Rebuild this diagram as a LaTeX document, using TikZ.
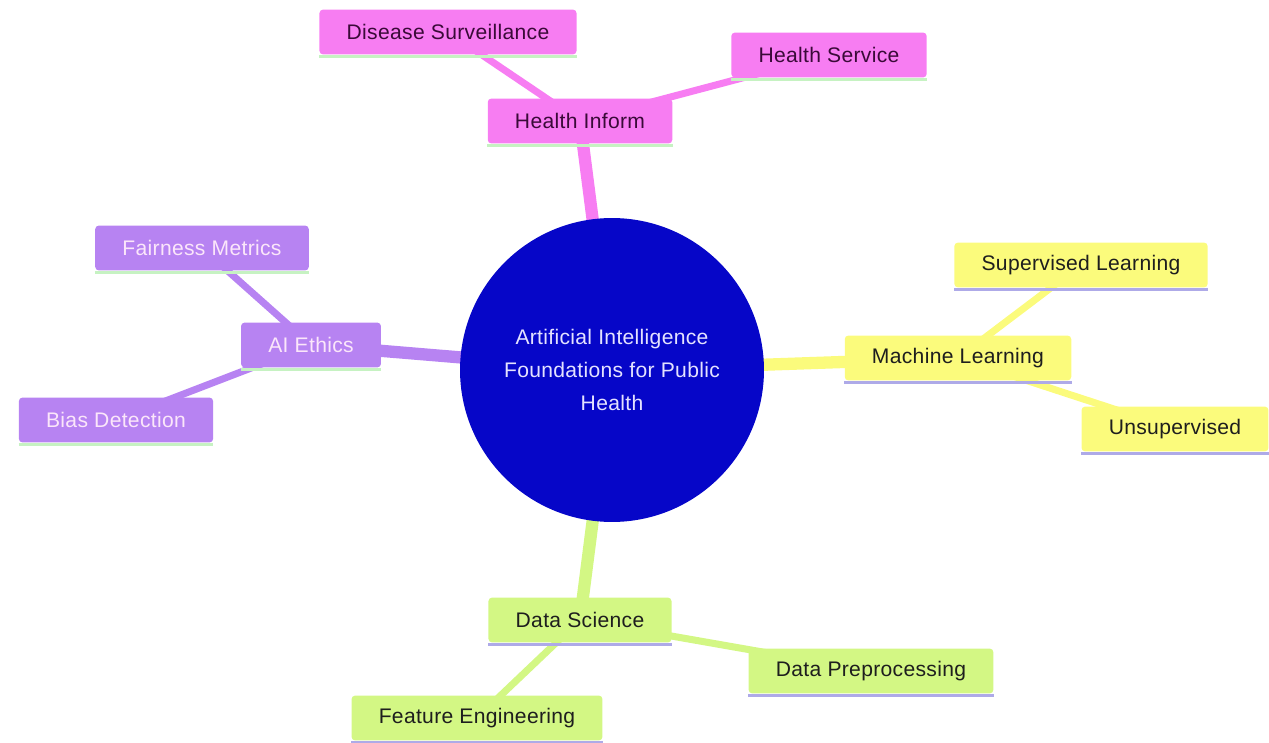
\documentclass[tikz,border=0pt]{standalone}
\usepackage{fontspec}
\setmainfont{Liberation Sans}[LetterSpace=1.5]
\usetikzlibrary{backgrounds}
\definecolor{corebl}{HTML}{0606C8}
\definecolor{coretx}{HTML}{E4E2FF}
\definecolor{pinkc}{HTML}{F77DF2}
\definecolor{pinktx}{HTML}{3A0A38}
\definecolor{purpc}{HTML}{B783F2}
\definecolor{purptx}{HTML}{FBE6FA}
\definecolor{yellc}{HTML}{FBFB7C}
\definecolor{limec}{HTML}{D3F784}
\definecolor{darktx}{HTML}{1E1E1E}
\definecolor{edgegreen}{HTML}{C6F2C2}
\definecolor{edgelav}{HTML}{AEAAE8}
\tikzset{
  topic/.style={rectangle, rounded corners=2pt, minimum height=25.5pt, inner xsep=15.5pt,
    font=\fontsize{12}{14}\selectfont},
  pinkbox/.style={topic, fill=pinkc, text=pinktx},
  purpbox/.style={topic, fill=purpc, text=purptx},
  yellbox/.style={topic, fill=yellc, text=darktx},
  limebox/.style={topic, fill=limec, text=darktx},
  branch/.style={line width=7pt},
  twig/.style={line width=4pt},
}

\begin{document}
\begin{tikzpicture}[x=0.02cm,y=-0.02cm]
\useasboundingbox (0,0) rectangle (1269,743);
\node[circle, fill=corebl, text=coretx, minimum size=6.08cm, align=center,
  font=\fontsize{12}{18.7}\selectfont] (core) at (612,370)
  {Artificial Intelligence\\Foundations for Public\\Health};
\node[pinkbox] (hinform) at (580,121) {Health Inform};
\node[pinkbox] (disease) at (448,32) {Disease Surveillance};
\node[pinkbox] (hservice) at (829,55) {Health Service};
\node[yellbox] (mlearn) at (958,358) {Machine Learning};
\node[yellbox] (superv) at (1081,265) {Supervised Learning};
\node[yellbox] (unsuperv) at (1175,429) {Unsupervised};
\node[purpbox] (ethics) at (311,345) {AI Ethics};
\node[purpbox] (fairness) at (202,248) {Fairness Metrics};
\node[purpbox] (bias) at (116,420) {Bias Detection};
\node[limebox] (dscience) at (580,620) {Data Science};
\node[limebox] (preproc) at (871,671) {Data Preprocessing};
\node[limebox] (feature) at (477,718) {Feature Engineering};
\foreach \n in {hinform,disease,hservice,ethics,fairness,bias}
  \draw[line width=1.6pt, edgegreen] ([yshift=-0.8pt]\n.south west) -- ([yshift=-0.8pt]\n.south east);
\foreach \n in {mlearn,superv,unsuperv,dscience,preproc,feature}
  \draw[line width=1.6pt, edgelav] ([yshift=-0.8pt]\n.south west) -- ([yshift=-0.8pt]\n.south east);
\begin{scope}[on background layer]
\draw[branch, pinkc] (core.center) -- (hinform.center);
\draw[twig, pinkc] (hinform.center) -- (disease.center);
\draw[twig, pinkc] (hinform.center) -- (hservice.center);
\draw[branch, yellc] (core.center) -- (mlearn.center);
\draw[twig, yellc] (mlearn.center) -- (superv.center);
\draw[twig, yellc] (mlearn.center) -- (unsuperv.center);
\draw[branch, purpc] (core.center) -- (ethics.center);
\draw[twig, purpc] (ethics.center) -- (fairness.center);
\draw[twig, purpc] (ethics.center) -- (bias.center);
\draw[branch, limec] (core.center) -- (dscience.center);
\draw[twig, limec] (dscience.center) -- (preproc.center);
\draw[twig, limec] (dscience.center) -- (feature.center);
\end{scope}
\end{tikzpicture}
\end{document}
